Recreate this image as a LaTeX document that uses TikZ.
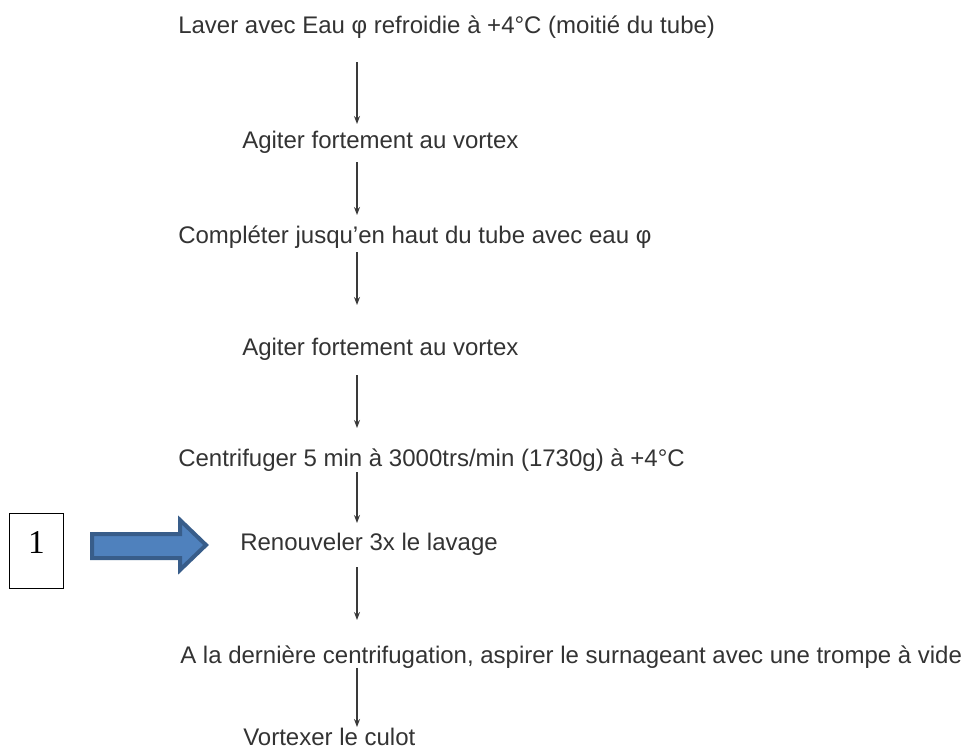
\documentclass[tikz,border=0pt]{standalone}
\usepackage{fontspec}
\setmainfont{Liberation Sans}
\newfontfamily\boxfont{Liberation Serif}
\usetikzlibrary{arrows.meta,calc}
\definecolor{txtgray}{HTML}{333333}
\definecolor{linegray}{HTML}{3A3A3A}
\definecolor{arrfill}{HTML}{4F81BD}
\definecolor{arrdraw}{HTML}{385D8A}
\begin{document}
\begin{tikzpicture}[x=0.75pt,y=-0.75pt,
  stepnode/.style={anchor=base west, inner sep=0pt, text=txtgray, font=\fontsize{18}{22}\selectfont},
  flow/.style={draw=linegray, line width=1.1pt, -{Stealth[length=6pt,width=4.5pt]}},
  numbox/.style={draw=black, line width=0.8pt, minimum width=40.5pt, minimum height=56.25pt, inner sep=0pt, anchor=north west},
  bluearrow/.style={fill=arrfill, draw=arrdraw, line width=3pt, line join=miter}]
\useasboundingbox (0,0) rectangle (970,754);
\coordinate (ax) at (357,0);
\node[stepnode] (s1) at (178,33) {Laver avec Eau φ refroidie à +4°C (moitié du tube)};
\node[stepnode] (s2) at (242,148) {Agiter fortement au vortex};
\node[stepnode] (s3) at (178,243) {Compléter jusqu’en haut du tube avec eau φ};
\node[stepnode] (s4) at (242,355) {Agiter fortement au vortex};
\node[stepnode] (s5) at (178,466) {Centrifuger 5 min à 3000trs/min (1730g) à +4°C};
\node[stepnode] (s6) at (240,550) {Renouveler 3x le lavage};
\node[stepnode] (s7) at (180,663) {A la dernière centrifugation, aspirer le surnageant avec une trompe à vide};
\node[stepnode] (s8) at (243,745) {Vortexer le culot};
\draw[flow] ($(s1.base -| ax)+(0,29)$) -- ($(s2.base -| ax)+(0,-24)$);
\draw[flow] ($(s2.base -| ax)+(0,14)$) -- ($(s3.base -| ax)+(0,-28)$);
\draw[flow] ($(s3.base -| ax)+(0,9)$) -- ($(s4.base -| ax)+(0,-50)$);
\draw[flow] ($(s4.base -| ax)+(0,20)$) -- ($(s5.base -| ax)+(0,-38)$);
\draw[flow] ($(s5.base -| ax)+(0,6)$) -- ($(s6.base -| ax)+(0,-27)$);
\draw[flow] ($(s6.base -| ax)+(0,17)$) -- ($(s7.base -| ax)+(0,-43)$);
\draw[flow] ($(s7.base -| ax)+(0,5)$) -- ($(s8.base -| ax)+(0,-18)$);
\node[numbox] (box) at (9,513) {};
\node[inner sep=0pt, font=\boxfont\fontsize{25}{28}\selectfont] (n1) at ($(box.center)+(0,-9)$) {1};
\draw[bluearrow] (92,534) -- (180,534) -- (180,520) -- (206,545) -- (180,570) -- (180,558) -- (92,558) -- cycle;
\end{tikzpicture}
\end{document}
